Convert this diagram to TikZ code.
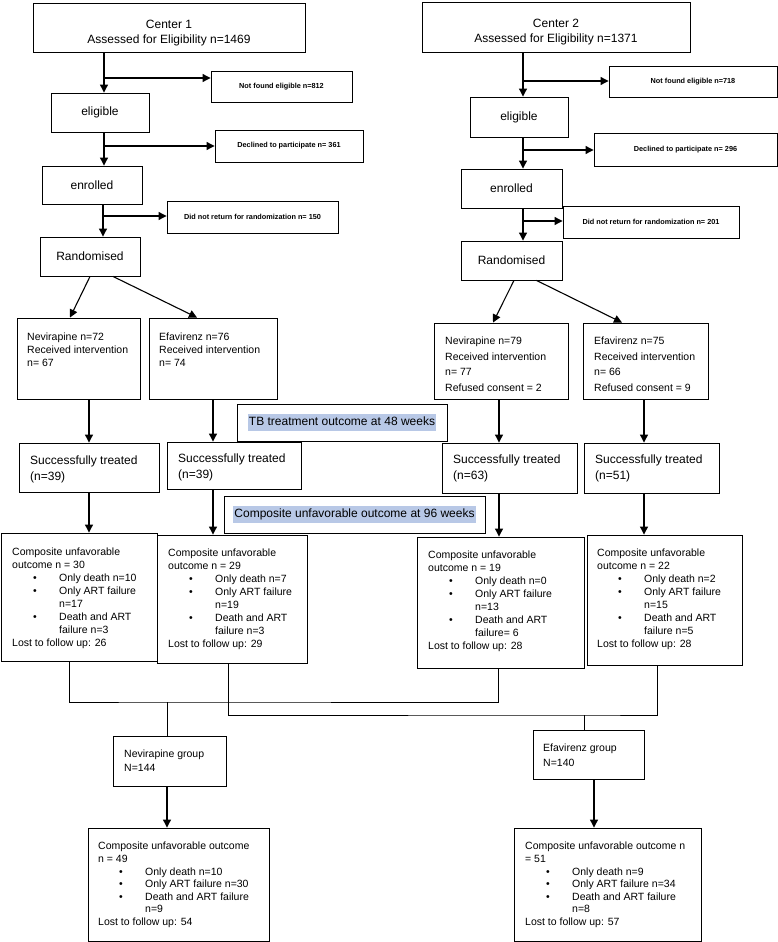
\documentclass[tikz,border=0pt]{standalone}
\usepackage{fontspec}
\setmainfont{Liberation Sans}
\usetikzlibrary{arrows.meta,fit,calc}
\definecolor{hlblue}{RGB}{184,200,230}
\newcommand{\itm}{\makebox[47pt][l]{\hspace{21pt}\textbullet}}
\newcommand{\cnt}{\hspace*{47pt}}
\tikzset{
  box/.style={draw, line width=0.9pt, fill=white, inner sep=0pt},
  big/.style={inner sep=0pt, font=\fontsize{12}{15}\selectfont, align=center},
  sml/.style={inner sep=0pt, font=\fontsize{7.3}{9}\selectfont\bfseries},
  txt/.style={anchor=north west, inner sep=0pt, align=left, font=\fontsize{10.5}{13}\selectfont},
  hl/.style={fill=hlblue, inner xsep=1pt, inner ysep=2.5pt, text height=9pt, text depth=3pt, font=\fontsize{12}{14}\selectfont},
  arr/.style={line width=1.1pt, -{Triangle[length=8pt,width=8pt]}},
  ln/.style={line width=0.9pt}
}
\begin{document}
\begin{tikzpicture}[x=1pt,y=-1pt]
\useasboundingbox (0,0) rectangle (778,942);
% center 1
\node[box, fit={(33,3) (305,52)}] (c1) {};
\node[big] (c1t) at ([yshift=-5.5pt]c1.center) {Center 1\\Assessed for Eligibility n=1469};
\node[box, fit={(211,71) (352,102)}] (nf1) {};
\node[sml] (nf1t) at (nf1) {Not found eligible n=812};
\node[box, fit={(51,93) (149,132)}] (el1) {};
\node[big] (el1t) at (el1) {eligible};
\node[box, fit={(215,130) (363,162)}] (dc1) {};
\node[sml] (dc1t) at (dc1) {Declined to participate n= 361};
\node[box, fit={(42,166) (142,204)}] (en1) {};
\node[big] (en1t) at (en1) {enrolled};
\node[box, fit={(167,201) (338,233)}] (dn1) {};
\node[sml] (dn1t) at (dn1) {Did not return for randomization n= 150};
\node[box, fit={(40,237) (140,276)}] (rd1) {};
\node[big] (rd1t) at (rd1) {Randomised};
% center 2
\node[box, fit={(422,2) (690,52)}] (c2) {};
\node[big] (c2t) at ([yshift=-5pt]c2.center) {Center 2\\Assessed for Eligibility n=1371};
\node[box, fit={(609,66) (777,97)}] (nf2) {};
\node[sml] (nf2t) at (nf2) {Not found eligible n=718};
\node[box, fit={(470,97) (568,137)}] (el2) {};
\node[big] (el2t) at (el2) {eligible};
\node[box, fit={(594,133) (777,166)}] (dc2) {};
\node[sml] (dc2t) at (dc2) {Declined to participate n= 296};
\node[box, fit={(461,169) (562,208)}] (en2) {};
\node[big] (en2t) at (en2) {enrolled};
\node[box, fit={(563,206) (739,238)}] (dn2) {};
\node[sml] (dn2t) at (dn2) {Did not return for randomization n= 201};
\node[box, fit={(461,241) (562,280)}] (rd2) {};
\node[big] (rd2t) at (rd2) {Randomised};
% arms
\node[box, fit={(17,318) (140,399)}] (nv1) {};
\node[txt] (nv1t) at (27,333) {Nevirapine n=72\\Received intervention\\n= 67};
\node[box, fit={(149,318) (277,399)}] (ef1) {};
\node[txt] (ef1t) at (159,333) {Efavirenz n=76\\Received intervention\\n= 74};
\node[box, fit={(434,323) (568,399)}] (nv2) {};
\node[txt, font=\fontsize{10.5}{15.4}\selectfont] (nv2t) at (445,337) {Nevirapine n=79\\Received intervention\\n= 77\\Refused consent = 2};
\node[box, fit={(583,323) (708,399)}] (ef2) {};
\node[txt, font=\fontsize{10.5}{15.4}\selectfont] (ef2t) at (594,337) {Efavirenz n=75\\Received intervention\\n= 66\\Refused consent = 9};
% outcome labels
\node[box, fit={(237,404) (447,441)}] (tb) {};
\node[hl] (tbt) at (tb) {TB treatment outcome at 48 weeks};
\node[box, fit={(224,496) (485,533)}] (co) {};
\node[hl] (cot) at (co) {Composite unfavorable outcome at 96 weeks};
% successfully treated
\node[box, fit={(19,443) (159,492)}] (st1) {};
\node[txt, font=\fontsize{12}{15.5}\selectfont] (st1t) at (30,456) {Successfully treated\\(n=39)};
\node[box, fit={(167,442) (301,489)}] (st2) {};
\node[txt, font=\fontsize{12}{15.5}\selectfont] (st2t) at (178,454) {Successfully treated\\(n=39)};
\node[box, fit={(442,443) (577,493)}] (st3) {};
\node[txt, font=\fontsize{12}{15.5}\selectfont] (st3t) at (453,455) {Successfully treated\\(n=63)};
\node[box, fit={(584,443) (719,493)}] (st4) {};
\node[txt, font=\fontsize{12}{15.5}\selectfont] (st4t) at (595,455) {Successfully treated\\(n=51)};
% composite per arm
\node[box, fit={(1,533) (157,661)}] (cp1) {};
\node[txt] (cp1t) at (12,548) {Composite unfavorable\\outcome n = 30\\\itm Only death n=10\\\itm Only ART failure\\\cnt n=17\\\itm Death and ART\\\cnt failure n=3\\Lost to follow up: 26};
\node[box, fit={(157,535) (307,663)}] (cp2) {};
\node[txt] (cp2t) at (168,549) {Composite unfavorable\\outcome n = 29\\\itm Only death n=7\\\itm Only ART failure\\\cnt n=19\\\itm Death and ART\\\cnt failure n=3\\Lost to follow up: 29};
\node[box, fit={(417,537) (584,668)}] (cp3) {};
\node[txt] (cp3t) at (428,551) {Composite unfavorable\\outcome n = 19\\\itm Only death n=0\\\itm Only ART failure\\\cnt n=13\\\itm Death and ART\\\cnt failure= 6\\Lost to follow up: 28};
\node[box, fit={(587,535) (742,665)}] (cp4) {};
\node[txt] (cp4t) at (597,549) {Composite unfavorable\\outcome n = 22\\\itm Only death n=2\\\itm Only ART failure\\\cnt n=15\\\itm Death and ART\\\cnt failure n=5\\Lost to follow up: 28};
% groups
\node[box, fit={(113,736) (226,786)}] (ng) {};
\node[txt, font=\fontsize{10.5}{14}\selectfont] (ngt) at (124,750) {Nevirapine group\\N=144};
\node[box, fit={(533,730) (644,779)}] (eg) {};
\node[txt, font=\fontsize{10.5}{15}\selectfont] (egt) at (543,744) {Efavirenz group\\N=140};
\node[box, fit={(88,828) (269,941)}] (fn) {};
\node[txt, font=\fontsize{10.5}{12.6}\selectfont] (fnt) at (98,842) {Composite unfavorable outcome\\n = 49\\\itm Only death n=10\\\itm Only ART failure n=30\\\itm Death and ART failure\\\cnt n=9\\Lost to follow up: 54};
\node[box, fit={(514,828) (701,941)}] (fe) {};
\node[txt, font=\fontsize{10.5}{12.6}\selectfont] (fet) at (525,842) {Composite unfavorable outcome n\\= 51\\\itm Only death n=9\\\itm Only ART failure n=34\\\itm Death and ART failure\\\cnt n=8\\Lost to follow up: 57};
% connectors center 1
\coordinate (a1) at (104,0);
\coordinate (a2) at (103,0);
\coordinate (j1) at (104,78);
\coordinate (j2) at (104,146);
\coordinate (j3) at (103,216);
\draw[arr] (c1.south -| a1) -- (el1.north -| a1);
\draw[arr] (j1) -- (j1 -| nf1.west);
\draw[arr] (el1.south -| a1) -- (en1.north -| a1);
\draw[arr] (j2) -- (j2 -| dc1.west);
\draw[arr] (en1.south -| a2) -- (rd1.north -| a2);
\draw[arr] (j3) -- (j3 -| dn1.west);
% connectors center 2
\coordinate (b1) at (523,0);
\coordinate (k1) at (523,81);
\coordinate (k2) at (523,150);
\coordinate (k3) at (523,221);
\draw[arr] (c2.south -| b1) -- (el2.north -| b1);
\draw[arr] (k1) -- (k1 -| nf2.west);
\draw[arr] (el2.south -| b1) -- (en2.north -| b1);
\draw[arr] (k2) -- (k2 -| dc2.west);
\draw[arr] (en2.south -| b1) -- (rd2.north -| b1);
\draw[arr] (k3) -- (k3 -| dn2.west);
% randomisation
\draw[arr] (rd1.south) -- ([xshift=-8.5pt]nv1.north);
\draw[arr] ([xshift=23pt]rd1.south) -- ([xshift=-16pt]ef1.north);
\draw[arr] ([xshift=2.5pt]rd2.south) -- ([xshift=-8pt]nv2.north);
\draw[arr] ([xshift=25pt]rd2.south) -- ([xshift=-23.5pt]ef2.north);
% down the arms
\draw[arr] (st1.north |- nv1.south) -- (st1.north);
\draw[arr] (ef1.south) -- (ef1.south |- st2.north);
\draw[arr] (st1.south) -- (st1.south |- cp1.north);
\draw[arr] (ef1.south |- st2.south) -- (ef1.south |- cp2.north);
\draw[arr] ([xshift=-2pt]nv2.south) -- ([xshift=-2pt]nv2.south |- st3.north);
\draw[arr] ([xshift=-1.5pt]ef2.south) -- ([xshift=-1.5pt]ef2.south |- st4.north);
\draw[arr] ([xshift=-2pt]nv2.south |- st3.south) -- ([xshift=-2pt]nv2.south |- cp3.north);
\draw[arr] ([xshift=-1.5pt]ef2.south |- st4.south) -- ([xshift=-1.5pt]ef2.south |- cp4.north);
% pooling
\coordinate (m1) at (167,702);
\coordinate (m2) at (584,715);
\coordinate (m3) at (594,0);
\draw[ln] ([xshift=-10pt]cp1.south) |- (m1) -| ([xshift=-2.5pt]cp3.south);
\draw[ln] (m1) -- (m1 |- ng.north);
\draw[arr] (m1 |- ng.south) -- (m1 |- fn.north);
\draw[ln] ([xshift=-4pt]cp2.south) |- (m2) -| ([xshift=-7.5pt]cp4.south);
\draw[ln] (m2) -- (m2 |- eg.north);
\draw[arr] (m3 |- eg.south) -- (m3 |- fe.north);
\end{tikzpicture}
\end{document}
